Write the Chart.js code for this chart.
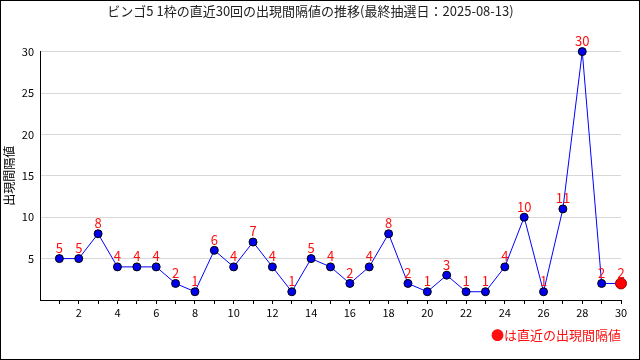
<!DOCTYPE html>
<html>
<head>
<meta charset="utf-8">
<script src="https://cdn.jsdelivr.net/npm/chart.js@4"></script>
<style>
  body { margin: 0; background: #fff; }
  #wrap { width: 640px; height: 360px; }
</style>
</head>
<body>
<div id="wrap"><canvas id="chart" width="640" height="360"></canvas></div>
<script>
// 直近30回の出現間隔値
const drawNo = [1,2,3,4,5,6,7,8,9,10,11,12,13,14,15,16,17,18,19,20,21,22,23,24,25,26,27,28,29,30];
const interval = [5,5,8,4,4,4,2,1,6,4,7,4,1,5,4,2,4,8,2,1,3,1,1,4,10,1,11,30,2,2];
const yTicks = [5,10,15,20,25,30];

const titleText = 'ビンゴ5 1枠の直近30回の出現間隔値の推移(最終抽選日：2025-08-13)';
const yTitle = '出現間隔値';
const noteText = '●は直近の出現間隔値';
const FONT = '"Noto Sans CJK JP", "DejaVu Sans", sans-serif';

const lastIdx = interval.length - 1;

// 値ラベル・注記・枠線
const extras = {
  id: 'extras',
  afterDatasetsDraw(chart) {
    const ctx = chart.ctx;
    const meta = chart.getDatasetMeta(0);
    ctx.save();
    ctx.font = '13px ' + FONT;
    ctx.fillStyle = '#ff1010';
    ctx.textAlign = 'center';
    ctx.textBaseline = 'bottom';
    meta.data.forEach((pt, i) => {
      ctx.fillText(String(interval[i]), pt.x, pt.y - 4);
    });
    ctx.textAlign = 'right';
    ctx.textBaseline = 'middle';
    ctx.fillText(noteText, chart.chartArea.right, 335);
    ctx.strokeStyle = '#000';
    ctx.lineWidth = 1;
    ctx.strokeRect(0.5, 0.5, chart.width - 1, chart.height - 1);
    ctx.restore();
  }
};

new Chart(document.getElementById('chart'), {
  type: 'line',
  data: {
    labels: drawNo,
    datasets: [{
      data: drawNo.map((x, i) => ({ x: x, y: interval[i] })),
      borderColor: '#0000ff',
      borderWidth: 1,
      tension: 0,
      pointRadius: c => c.dataIndex === lastIdx ? 5.5 : 4,
      pointBackgroundColor: c => c.dataIndex === lastIdx ? '#ff0000' : '#0000ee',
      pointBorderColor: c => c.dataIndex === lastIdx ? '#990000' : '#000000',
      pointBorderWidth: 1,
      clip: false
    }]
  },
  options: {
    responsive: false,
    animation: false,
    layout: { padding: { left: 0, right: 19, top: 0, bottom: 0 } },
    plugins: {
      legend: { display: false },
      tooltip: { enabled: false },
      title: {
        display: true,
        text: titleText,
        color: '#222',
        font: { family: FONT, size: 13, weight: 'normal' },
        padding: { top: 3, bottom: 33 }
      }
    },
    scales: {
      x: {
        type: 'linear',
        min: 0,
        max: 30,
        afterFit: s => { s.height = 60; },
        afterBuildTicks: s => { s.ticks = drawNo.map(v => ({ value: v })); },
        ticks: {
          autoSkip: false,
          maxRotation: 0,
          color: '#000',
          padding: 2,
          font: { family: FONT, size: 11 },
          callback: v => (v % 2 === 0 ? String(v) : '')
        },
        grid: { drawOnChartArea: false, color: '#000', tickLength: 4 },
        border: { color: '#000' }
      },
      y: {
        min: 0,
        max: 30,
        afterFit: s => { s.width = 40; },
        afterBuildTicks: s => { s.ticks = yTicks.map(v => ({ value: v })); },
        ticks: {
          color: '#000',
          padding: 6,
          font: { family: FONT, size: 11 }
        },
        grid: { color: '#d8d8d8', drawTicks: false },
        border: { color: '#000' },
        title: {
          display: true,
          text: yTitle,
          color: '#000',
          font: { family: FONT, size: 12 },
          padding: { top: 2, bottom: 0 }
        }
      }
    }
  },
  plugins: [extras]
});
</script>
</body>
</html>
